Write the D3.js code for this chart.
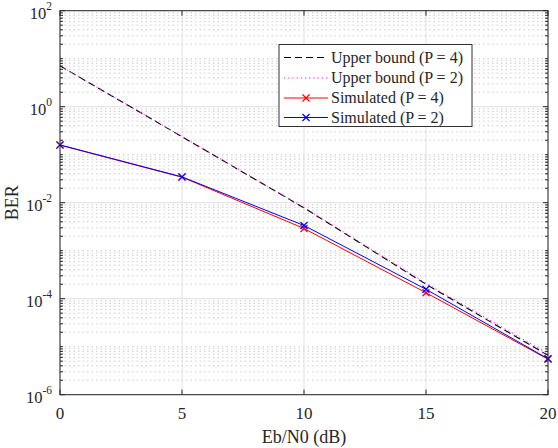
<!DOCTYPE html>
<html>

<head>
    <script src="https://d3js.org/d3.v7.min.js"></script>
    <style>
        body { margin: 0; background: #fff; }
        text { font-family: "Liberation Serif", "Times New Roman", serif; fill: #262626; }
    </style>
</head>

<body>
    <svg width="558" height="448"></svg>

    <script>
        // data
        const ebn0 = [0, 5, 10, 15, 20];
        const boundP4 = [7.1, 0.237, 7.8e-3, 2.0e-4, 6.6e-6];
        const boundP2 = [7.1, 0.24, 8.0e-3, 2.1e-4, 7.2e-6];
        const simP4 = [0.158, 0.034, 2.9e-3, 1.33e-4, 5.5e-6];
        const simP2 = [0.16, 0.0345, 3.35e-3, 1.57e-4, 5.6e-6];

        const xTicks = [0, 5, 10, 15, 20];
        const yTickExps = [2, 0, -2, -4, -6];
        const legendLabels = ["Upper bound (P = 4)", "Upper bound (P = 2)", "Simulated (P = 4)", "Simulated (P = 2)"];

        // plot box
        const boxL = 60, boxR = 548, boxT = 10.7, boxB = 394.7;
        const axisColor = "#262626";

        const svg = d3.select("svg");

        const x = d3.scaleLinear().domain([0, 20]).range([boxL, boxR]);
        const y = d3.scaleLog().domain([1e-6, 1e2]).range([boxB, boxT]);

        // grid: minor (dotted) for every non-labelled log tick, major for labelled ones
        const minorVals = [];
        for (let e = -6; e < 2; e++) {
            for (let m = 1; m <= 9; m++) {
                const v = m * Math.pow(10, e);
                if (m === 1 && e % 2 === 0) continue;
                minorVals.push(v);
            }
        }
        const grid = svg.append("g");
        grid.selectAll("line.minor")
            .data(minorVals)
            .enter()
            .append("line")
            .attr("x1", boxL).attr("x2", boxR)
            .attr("y1", (d) => y(d)).attr("y2", (d) => y(d))
            .attr("stroke", "#cccccc")
            .attr("stroke-width", 1)
            .attr("stroke-dasharray", "1.5,3");
        grid.selectAll("line.hmaj")
            .data(yTickExps)
            .enter()
            .append("line")
            .attr("x1", boxL).attr("x2", boxR)
            .attr("y1", (d) => y(Math.pow(10, d))).attr("y2", (d) => y(Math.pow(10, d)))
            .attr("stroke", "#e0e0e0");
        grid.selectAll("line.vmaj")
            .data(xTicks)
            .enter()
            .append("line")
            .attr("x1", (d) => x(d)).attr("x2", (d) => x(d))
            .attr("y1", boxT).attr("y2", boxB)
            .attr("stroke", "#e0e0e0");

        // series
        const series = [
            { vals: boundP4, color: "#000000", dash: "7,4", marker: false, w: 1.1 },
            { vals: boundP2, color: "#ff00ff", dash: "1.2,3", marker: false, w: 1 },
            { vals: simP4, color: "#ff0000", dash: null, marker: true, w: 1 },
            { vals: simP2, color: "#0000ff", dash: null, marker: true, w: 1 }
        ];
        const line = d3.line().x((d) => x(d[0])).y((d) => y(d[1]));
        const lineGroup = svg.append("g");
        series.forEach((s) => {
            const pts = ebn0.map((e, i) => [e, s.vals[i]]);
            lineGroup.append("path")
                .attr("d", line(pts))
                .attr("fill", "none")
                .attr("stroke", s.color)
                .attr("stroke-width", s.w)
                .attr("stroke-dasharray", s.dash);
            if (s.marker) {
                const m = 3.5;
                lineGroup.selectAll(null)
                    .data(pts)
                    .enter()
                    .append("path")
                    .attr("d", (d) => {
                        const cx = x(d[0]), cy = y(d[1]);
                        return `M${cx - m},${cy - m}L${cx + m},${cy + m}M${cx - m},${cy + m}L${cx + m},${cy - m}`;
                    })
                    .attr("stroke", s.color)
                    .attr("stroke-width", 1.2);
            }
        });

        // axes: box with inward ticks
        const ax = svg.append("g").attr("stroke", axisColor);
        ax.append("rect")
            .attr("x", boxL).attr("y", boxT)
            .attr("width", boxR - boxL).attr("height", boxB - boxT)
            .attr("fill", "none").attr("stroke-width", 1);
        xTicks.forEach((t) => {
            ax.append("line").attr("x1", x(t)).attr("x2", x(t)).attr("y1", boxB).attr("y2", boxB - 5);
            ax.append("line").attr("x1", x(t)).attr("x2", x(t)).attr("y1", boxT).attr("y2", boxT + 5);
        });
        yTickExps.forEach((e) => {
            const yy = y(Math.pow(10, e));
            ax.append("line").attr("x1", boxL).attr("x2", boxL + 5).attr("y1", yy).attr("y2", yy);
            ax.append("line").attr("x1", boxR).attr("x2", boxR - 5).attr("y1", yy).attr("y2", yy);
        });
        minorVals.forEach((v) => {
            const yy = y(v);
            ax.append("line").attr("x1", boxL).attr("x2", boxL + 3).attr("y1", yy).attr("y2", yy);
            ax.append("line").attr("x1", boxR).attr("x2", boxR - 3).attr("y1", yy).attr("y2", yy);
        });

        // tick labels
        svg.selectAll("text.xt")
            .data(xTicks)
            .enter()
            .append("text")
            .attr("x", (d) => x(d))
            .attr("y", 419)
            .attr("text-anchor", "middle")
            .attr("font-size", 17)
            .text((d) => d);

        const yt = svg.selectAll("text.yt")
            .data(yTickExps)
            .enter()
            .append("text")
            .attr("x", 52)
            .attr("y", (d) => y(Math.pow(10, d)) + 7.8)
            .attr("text-anchor", "end")
            .attr("font-size", 16.5);
        yt.append("tspan").text("10");
        yt.append("tspan")
            .attr("dy", -8.3)
            .attr("font-size", 11.5)
            .text((d) => d);

        // axis titles
        svg.append("text")
            .attr("x", x(10))
            .attr("y", 443)
            .attr("text-anchor", "middle")
            .attr("font-size", 18)
            .text("Eb/N0 (dB)");
        svg.append("text")
            .attr("transform", `translate(18,${(boxT + boxB) / 2}) rotate(-90)`)
            .attr("text-anchor", "middle")
            .attr("font-size", 18)
            .text("BER");

        // legend
        const lg = svg.append("g");
        lg.append("rect")
            .attr("x", 279).attr("y", 44.5)
            .attr("width", 193).attr("height", 82)
            .attr("fill", "#fff")
            .attr("stroke", "#333")
            .attr("stroke-width", 1);
        const rowY = [57.5, 78, 98, 117.5];
        series.forEach((s, i) => {
            lg.append("line")
                .attr("x1", 284).attr("x2", 328)
                .attr("y1", rowY[i]).attr("y2", rowY[i])
                .attr("stroke", s.color)
                .attr("stroke-width", s.w)
                .attr("stroke-dasharray", s.dash);
            if (s.marker) {
                const cx = 306, cy = rowY[i], m = 3.5;
                lg.append("path")
                    .attr("d", `M${cx - m},${cy - m}L${cx + m},${cy + m}M${cx - m},${cy + m}L${cx + m},${cy - m}`)
                    .attr("stroke", s.color)
                    .attr("stroke-width", 1.2);
            }
            lg.append("text")
                .attr("x", 331)
                .attr("y", rowY[i] + 5)
                .attr("font-size", 16)
                .text(legendLabels[i]);
        });
    </script>
</body>

</html>
